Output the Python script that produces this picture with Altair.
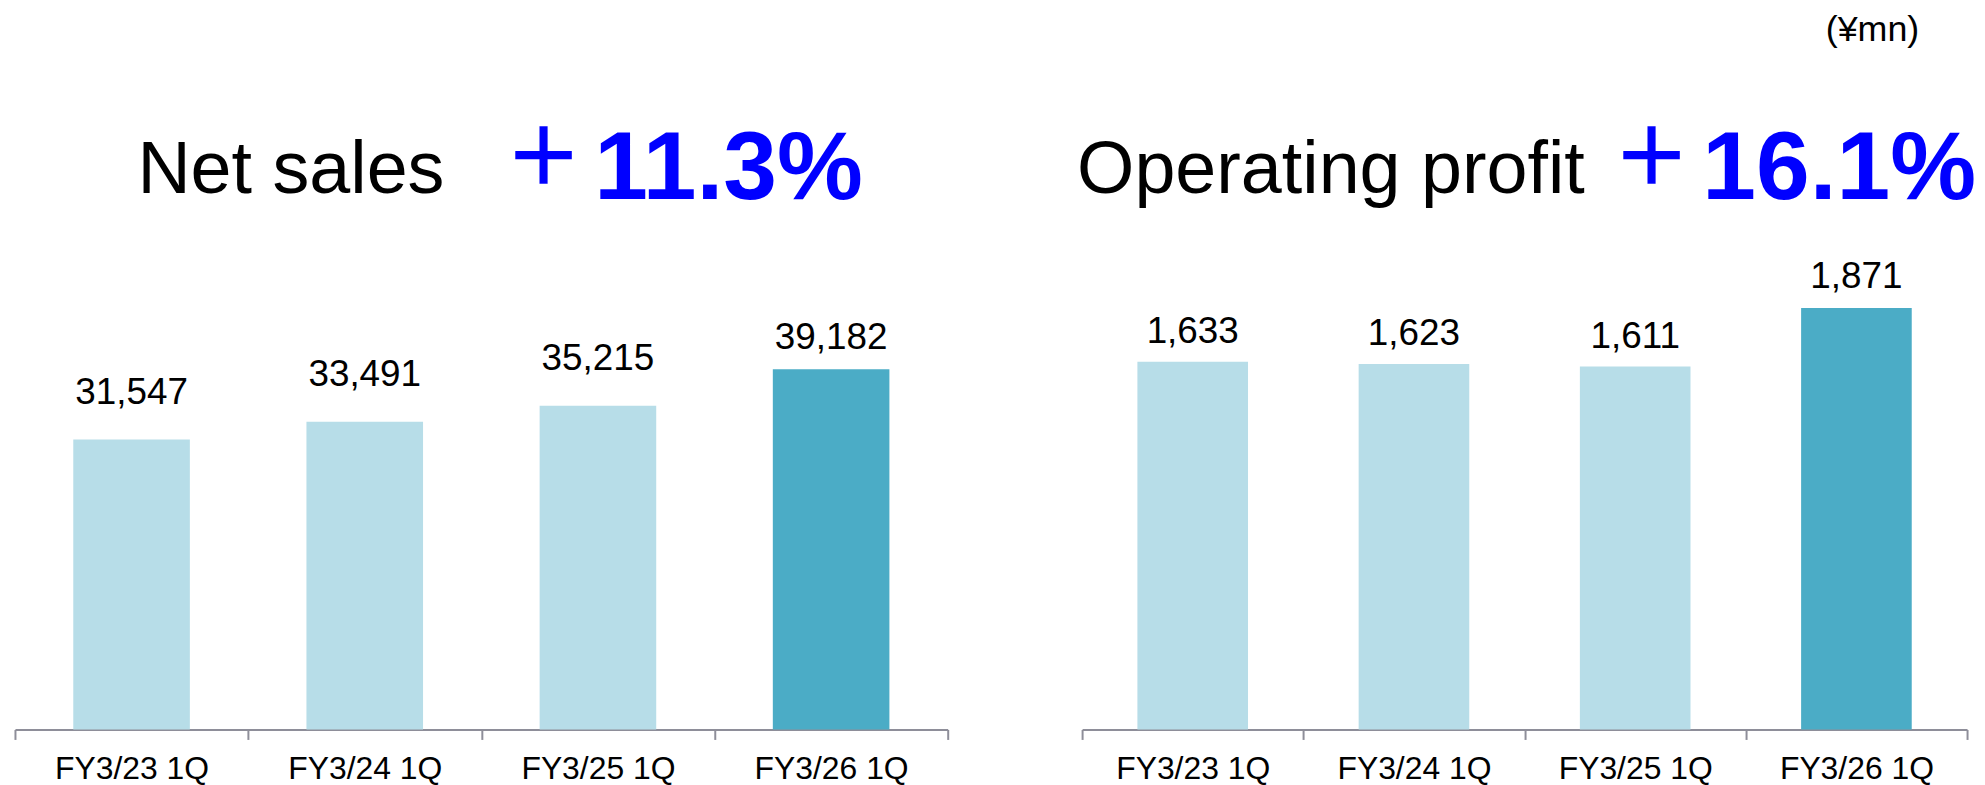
import altair as alt
import pandas as pd

categories = ["FY3/23 1Q", "FY3/24 1Q", "FY3/25 1Q", "FY3/26 1Q"]
net_sales = [31547, 33491, 35215, 39182]
operating_profit = [1633, 1623, 1611, 1871]
group = ["base", "base", "base", "highlight"]
net_sales_title = "Net sales"
op_title = "Operating profit"
net_sales_growth = "11.3%"
op_growth = "16.1%"
plus_sign = "＋"
unit_label = "(¥mn)"

LIGHT = "#B7DDE8"
DARK = "#4BACC6"
BLUE = "#0000FF"
AXIS = "#8E8E99"
FONT = "Liberation Sans"
PANEL_H = 723


def text_layer(txt, x, y, size, color="black", weight="normal", align="left",
               baseline="alphabetic", font=FONT):
    return alt.Chart(pd.DataFrame({"t": [txt]})).mark_text(
        fontSize=size, font=font, fontWeight=weight, color=color,
        align=align, baseline=baseline,
    ).encode(x=alt.value(x), y=alt.value(y), text="t:N")


def panel(values, title, growth, width, ymax, offsets, title_x, plus_x, growth_x, extra=None):
    df = pd.DataFrame({"cat": categories, "value": values, "grp": group})
    df["label"] = [f"{v:,}" for v in values]
    x = alt.X(
        "cat:N", sort=categories,
        scale=alt.Scale(paddingInner=0, paddingOuter=0),
        axis=alt.Axis(
            title=None, labelAngle=0, tickBand="extent", grid=False,
            domainColor=AXIS, domainWidth=2, tickColor=AXIS, tickWidth=2,
            tickSize=10, labelFont=FONT, labelFontSize=32, labelColor="black",
            labelPadding=14,
        ),
    )
    y = alt.Y("value:Q", scale=alt.Scale(domain=[0, ymax], nice=False, zero=True), axis=None)
    base = alt.Chart(df).encode(x=x, y=y)
    bars = base.mark_bar(width=alt.RelativeBandSize(0.5)).encode(
        color=alt.Color("grp:N", scale=alt.Scale(domain=["base", "highlight"], range=[LIGHT, DARK]),
                        legend=None)
    )
    lbl_base = base.transform_filter(alt.datum.grp == "base").mark_text(
        fontSize=37, font=FONT, color="black", baseline="alphabetic", dy=-offsets[0]
    ).encode(text="label:N")
    lbl_hl = base.transform_filter(alt.datum.grp == "highlight").mark_text(
        fontSize=37, font=FONT, color="black", baseline="alphabetic", dy=-offsets[1]
    ).encode(text="label:N")
    layers = [
        bars, lbl_base, lbl_hl,
        text_layer(title, title_x, 184, 74),
        text_layer(plus_sign, plus_x, 152, 80, color=BLUE, weight="bold", align="center",
                   baseline="middle", font="Noto Sans CJK JP"),
        text_layer(growth, growth_x, 190, 97, color=BLUE, weight="bold"),
    ]
    if extra is not None:
        layers.append(extra)
    return alt.layer(*layers).properties(width=width, height=PANEL_H)


left = panel(net_sales, net_sales_title, net_sales_growth, 937, 78300, (36, 20),
             123, 531, 582)
right = panel(operating_profit, op_title, op_growth, 889, 3195, (19, 20),
              -5, 572, 623,
              extra=text_layer(unit_label, 794, 31, 36, align="center"))

chart = alt.hconcat(left, right, spacing=129).properties(
    padding={"left": 6, "top": 0, "right": 0, "bottom": 0}
).configure_view(stroke=None)

chart.save("out.html", embed_options={"renderer": "svg", "actions": False})
